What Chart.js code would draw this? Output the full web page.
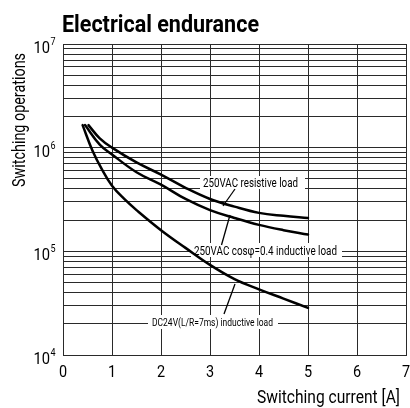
<!DOCTYPE html>
<html>
<head>
<meta charset="utf-8">
<script src="https://cdn.jsdelivr.net/npm/chart.js@4"></script>
<style>
  html,body{margin:0;padding:0;background:#fff}
  #chart{display:block}
</style>
</head>
<body>
<canvas id="chart" width="410" height="408"></canvas>
<script>
// curves (switching current [A] -> operations)
const currentRes = [0.52, 0.75, 1, 1.5, 2, 2.5, 3, 3.5, 4, 4.5, 5];
const opsRes     = [1.65e6, 1.23e6, 1.0e6, 7.2e5, 5.5e5, 4.1e5, 3.2e5, 2.7e5, 2.35e5, 2.2e5, 2.1e5];

const currentCos = [0.45, 0.75, 1, 1.5, 2, 2.5, 3, 3.5, 4, 4.5, 5];
const opsCos     = [1.65e6, 1.07e6, 8.6e5, 5.8e5, 4.4e5, 3.2e5, 2.5e5, 2.1e5, 1.8e5, 1.6e5, 1.45e5];

const currentDc  = [0.4, 0.6, 0.8, 1, 1.25, 1.5, 2, 2.5, 3, 3.5, 4, 4.5, 5];
const opsDc      = [1.65e6, 9.4e5, 6.1e5, 4.3e5, 3.2e5, 2.5e5, 1.6e5, 1.08e5, 7.4e4, 5.4e4, 4.3e4, 3.5e4, 2.85e4];

const xTicks     = [0, 1, 2, 3, 4, 5, 6, 7];
const yExponents = [4, 5, 6, 7];
const yMultiples = [1, 2, 3, 4, 5, 6, 7, 8, 9];

const title  = 'Electrical endurance';
const xTitle = 'Switching current [A]';
const yTitle = 'Switching operations';
const labelRes = '250VAC resistive load';
const labelCos = '250VAC cosφ=0.4 inductive load';
const labelDc  = 'DC24V(L/R=7ms) inductive load';

const FONT = "Roboto, 'Liberation Sans', sans-serif";

function pts(xs, ys){ return xs.map((x,i)=>({x, y:ys[i]})) }

function gridValues(){
  const v=[];
  yExponents.slice(0,-1).forEach(e=>yMultiples.forEach(m=>v.push(m*Math.pow(10,e))));
  v.push(Math.pow(10, yExponents[yExponents.length-1]));
  return v;
}

// draws text squeezed horizontally, either to a width or by a factor
function squeeze(ctx, text, x, y, font, opt){
  ctx.save();
  ctx.font=font;
  const w=ctx.measureText(text).width;
  const k=opt.width ? opt.width/w : (opt.k||1);
  ctx.translate(x,y);
  if(opt.rotate) ctx.rotate(opt.rotate);
  ctx.scale(k,1);
  ctx.textAlign=opt.align||'left';
  ctx.textBaseline='alphabetic';
  ctx.fillStyle='#000';
  ctx.fillText(text,0,0);
  ctx.restore();
}

function line(ctx,x1,y1,x2,y2,w){
  ctx.save();
  ctx.strokeStyle='#000'; ctx.lineWidth=w;
  ctx.beginPath(); ctx.moveTo(x1,y1); ctx.lineTo(x2,y2); ctx.stroke();
  ctx.restore();
}

function box(ctx,x1,y1,x2,y2){
  ctx.save(); ctx.fillStyle='#fff'; ctx.fillRect(x1,y1,x2-x1,y2-y1); ctx.restore();
}

// labels with white boxes and leader lines, under the curves
const calloutPlugin = {
  id:'callouts',
  beforeDatasetsDraw(chart){
    const ctx=chart.ctx;
    box(ctx,200,176,305,189);
    squeeze(ctx,labelRes,203,186.5,'13px '+FONT,{width:95});
    line(ctx,235,189,223,206,1.3);

    box(ctx,191,243,342,257);
    squeeze(ctx,labelCos,194,254.5,'13px '+FONT,{width:143});
    line(ctx,230,215,221.5,245,1.3);

    box(ctx,148,315,278,329);
    squeeze(ctx,labelDc,152,326,'11px '+FONT,{width:121});
    line(ctx,235,284,224,314,1.3);
  },
  afterDraw(chart){
    const ctx=chart.ctx, xs=chart.scales.x, ys=chart.scales.y;
    squeeze(ctx,title,62,32,'bold 24px '+FONT,{width:197});

    xTicks.forEach(t=>{
      squeeze(ctx,String(t),xs.getPixelForValue(t),377,'17px '+FONT,{k:0.85,align:'center'});
    });

    yExponents.forEach(e=>{
      const py=ys.getPixelForValue(Math.pow(10,e));
      squeeze(ctx,'10',50,py+9,'16px '+FONT,{k:0.92,align:'right'});
      squeeze(ctx,String(e),50.5,py+1,'10px '+FONT,{k:0.9});
    });

    squeeze(ctx,xTitle,400,403,'18px '+FONT,{width:143,align:'right'});
    squeeze(ctx,yTitle,25,187,'18px '+FONT,{width:134,rotate:-Math.PI/2});
  }
};

function curve(data){
  return {data, borderColor:'#000', borderWidth:2.5, pointRadius:0, fill:false,
          tension:0.4, borderCapStyle:'round', borderJoinStyle:'round'};
}

const gridOpts = {color:'#2a2a2a', lineWidth:1, drawTicks:false};

new Chart(document.getElementById('chart').getContext('2d'),{
  type:'line',
  data:{datasets:[
    curve(pts(currentRes,opsRes)),
    curve(pts(currentCos,opsCos)),
    curve(pts(currentDc,opsDc))
  ]},
  options:{
    responsive:false, animation:false, devicePixelRatio:1,
    layout:{padding:{left:63,right:4,top:44,bottom:53}},
    plugins:{legend:{display:false},tooltip:{enabled:false}},
    scales:{
      x:{type:'linear',min:0,max:7,ticks:{display:false,stepSize:1},
         grid:gridOpts,border:{display:true,color:'#2a2a2a'}},
      y:{type:'logarithmic',min:1e4,max:1e7,ticks:{display:false},
         afterBuildTicks:s=>{s.ticks=gridValues().map(v=>({value:v}))},
         grid:gridOpts,border:{display:true,color:'#2a2a2a'}}
    }
  },
  plugins:[calloutPlugin]
});
</script>
</body>
</html>
